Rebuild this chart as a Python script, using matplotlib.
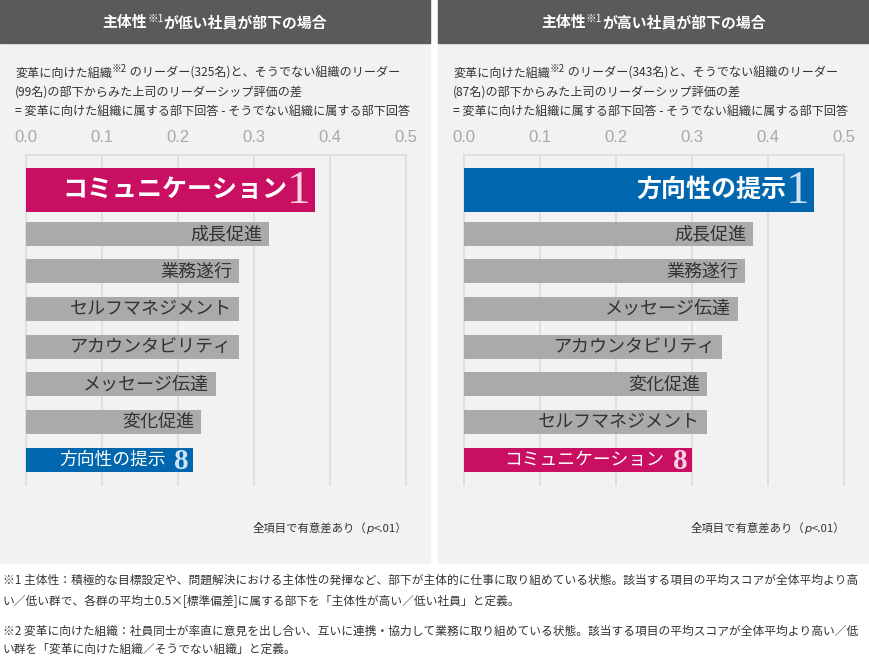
import matplotlib
matplotlib.use('Agg')
import matplotlib.pyplot as plt
from matplotlib.patches import Rectangle

plt.rcParams['font.family'] = ['Noto Sans CJK JP', 'DejaVu Sans']

W, H = 869, 657

# data
left_title = ('主体性', '※1', 'が低い社員が部下の場合')
right_title = ('主体性', '※1', 'が高い社員が部下の場合')
left_counts = (325, 99)
right_counts = (343, 87)
left_items = ['コミュニケーション', '成長促進', '業務遂行', 'セルフマネジメント',
              'アカウンタビリティ', 'メッセージ伝達', '変化促進', '方向性の提示']
left_values = [0.38, 0.32, 0.28, 0.28, 0.28, 0.25, 0.23, 0.22]
right_items = ['方向性の提示', '成長促進', '業務遂行', 'メッセージ伝達',
               'アカウンタビリティ', '変化促進', 'セルフマネジメント', 'コミュニケーション']
right_values = [0.46, 0.38, 0.37, 0.36, 0.34, 0.32, 0.32, 0.30]
ticks = [0.0, 0.1, 0.2, 0.3, 0.4, 0.5]
footnotes = [
    '※1 主体性：積極的な目標設定や、問題解決における主体性の発揮など、部下が主体的に仕事に取り組めている状態。該当する項目の平均スコアが全体平均より高',
    'い／低い群で、各群の平均±0.5×[標準偏差]に属する部下を「主体性が高い／低い社員」と定義。',
    '※2 変革に向けた組織：社員同士が率直に意見を出し合い、互いに連携・協力して業務に取り組めている状態。該当する項目の平均スコアが全体平均より高い／低',
    'い群を「変革に向けた組織／そうでない組織」と定義。',
]

PINK = '#c90f62'
BLUE = '#0066ad'
GRAY = '#aaaaaa'
PANEL = '#f2f2f2'
HEAD = '#5a5a5a'
TXT = '#333333'

fig = plt.figure(figsize=(8.69, 6.57), dpi=100)
fig.patch.set_facecolor('white')
renderer = fig.canvas.get_renderer()


def fx(px):
    return px / W


def fy(py):
    return 1 - py / H


def runs(x, y, parts, ha='left'):
    # parts: (text, rise_px, kwargs); y is the baseline in pixels from top
    objs = []
    for s, rise, kw in parts:
        t = fig.text(0, 0, s, va='baseline', **kw)
        w = t.get_window_extent(renderer).width
        objs.append((t, w, rise))
    total = sum(o[1] for o in objs)
    cur = x
    if ha == 'center':
        cur = x - total / 2
    elif ha == 'right':
        cur = x - total
    for t, w, rise in objs:
        t.set_position((fx(cur), fy(y - rise)))
        cur += w


def panel(x0, x1, title, counts, items, values, top_color, bottom_color,
          top_num_color, bottom_num_color):
    # background and header
    fig.patches.append(Rectangle((fx(x0), fy(563)), fx(x1 - x0), 563 / H,
                                 transform=fig.transFigure, color=PANEL, zorder=-2))
    fig.patches.append(Rectangle((fx(x0), fy(43)), fx(x1 - x0), 43 / H,
                                 transform=fig.transFigure, color=HEAD, zorder=-1))
    runs((x0 + x1) / 2, 27.5, [
        (title[0], 0, dict(color='white', fontsize=10.7, fontweight='bold')),
        (title[1], 5, dict(color='white', fontsize=7.5)),
        (title[2], 0, dict(color='white', fontsize=10.7, fontweight='bold')),
    ], ha='center')

    sub = dict(color=TXT, fontsize=8.7)
    runs(x0 + 15, 76.5, [
        ('変革に向けた組織', 0, sub),
        ('※2', 4, dict(color=TXT, fontsize=7)),
        (' のリーダー(%d名)と、そうでない組織のリーダー' % counts[0], 0, sub),
    ])
    runs(x0 + 15, 95.5, [('(%d名)の部下からみた上司のリーダーシップ評価の差' % counts[1], 0, sub)])
    runs(x0 + 15, 114.5, [('= 変革に向けた組織に属する部下回答 - そうでない組織に属する部下回答', 0, sub)])

    # chart axes
    ax_l = x0 + 26
    ax = fig.add_axes([fx(ax_l), fy(485), 380 / W, 330 / H])
    ax.set_zorder(2)
    ax.patch.set_visible(False)
    n = len(items)
    pos = [0] + [i + 0.16 for i in range(1, n)]
    heights = [1.17] + [0.64] * (n - 1)
    colors = [top_color] + [GRAY] * (n - 2) + [bottom_color]
    ax.barh(pos, values, height=heights, color=colors, zorder=2)
    ax.set_xlim(0, 0.5)
    ax.set_ylim(pos[-1] + 0.67, -0.93)
    ax.set_xticks(ticks)
    ax.set_xticklabels(['%.1f' % t for t in ticks], fontsize=12, color='#a8a8a8',
                       family=['Liberation Sans', 'DejaVu Sans'])
    ax.xaxis.tick_top()
    ax.tick_params(axis='x', length=0, pad=7.5)
    ax.set_yticks([])
    ax.xaxis.grid(True, color='#dedede', lw=1.3, zorder=0)
    ax.set_axisbelow(True)
    for s in ['left', 'right', 'bottom']:
        ax.spines[s].set_visible(False)
    ax.spines['top'].set_color('#dedede')
    ax.spines['top'].set_linewidth(1.3)
    for g in ax.get_xgridlines():
        g.set_clip_on(False)

    # labels inside bars
    ax.annotate('1', (values[0], pos[0]), xytext=(-3, -1), textcoords='offset points',
                ha='right', va='center', fontsize=34, color=top_num_color,
                family=['Liberation Serif', 'DejaVu Serif'], zorder=3)
    ax.annotate(items[0], (values[0], pos[0]), xytext=(-20, 0), textcoords='offset points',
                ha='right', va='center', fontsize=18, fontweight='bold', color='white', zorder=3)
    for i in range(1, n - 1):
        ax.annotate(items[i], (values[i], pos[i]), xytext=(-5, 0), textcoords='offset points',
                    ha='right', va='center', fontsize=13, color=TXT, zorder=3)
    ax.annotate('8', (values[-1], pos[-1]), xytext=(-3.5, -1), textcoords='offset points',
                ha='right', va='center', fontsize=21, fontweight='bold', color=bottom_num_color,
                family=['Liberation Serif', 'DejaVu Serif'], zorder=3)
    ax.annotate(items[-1], (values[-1], pos[-1]), xytext=(-20, 0), textcoords='offset points',
                ha='right', va='center', fontsize=12.8, color='white', zorder=3)

    note = dict(color=TXT, fontsize=8.2)
    runs(x0 + 407, 532, [
        ('全項目で有意差あり（', 0, note),
        ('p', 0, dict(color=TXT, fontsize=8.2, fontstyle='italic', family=['DejaVu Sans'])),
        ('<.01）', 0, note),
    ], ha='right')


panel(0, 430, left_title, left_counts, left_items, left_values,
      PINK, BLUE, '#f6d3e2', '#cfe2f3')
panel(438, 869, right_title, right_counts, right_items, right_values,
      BLUE, PINK, '#cfe2f3', '#f6d3e2')

for text, y in zip(footnotes, [584, 605, 635, 653]):
    fig.text(fx(3), fy(y), text, fontsize=8.45, color=TXT, va='baseline')

fig.savefig('out.png', dpi=100)
